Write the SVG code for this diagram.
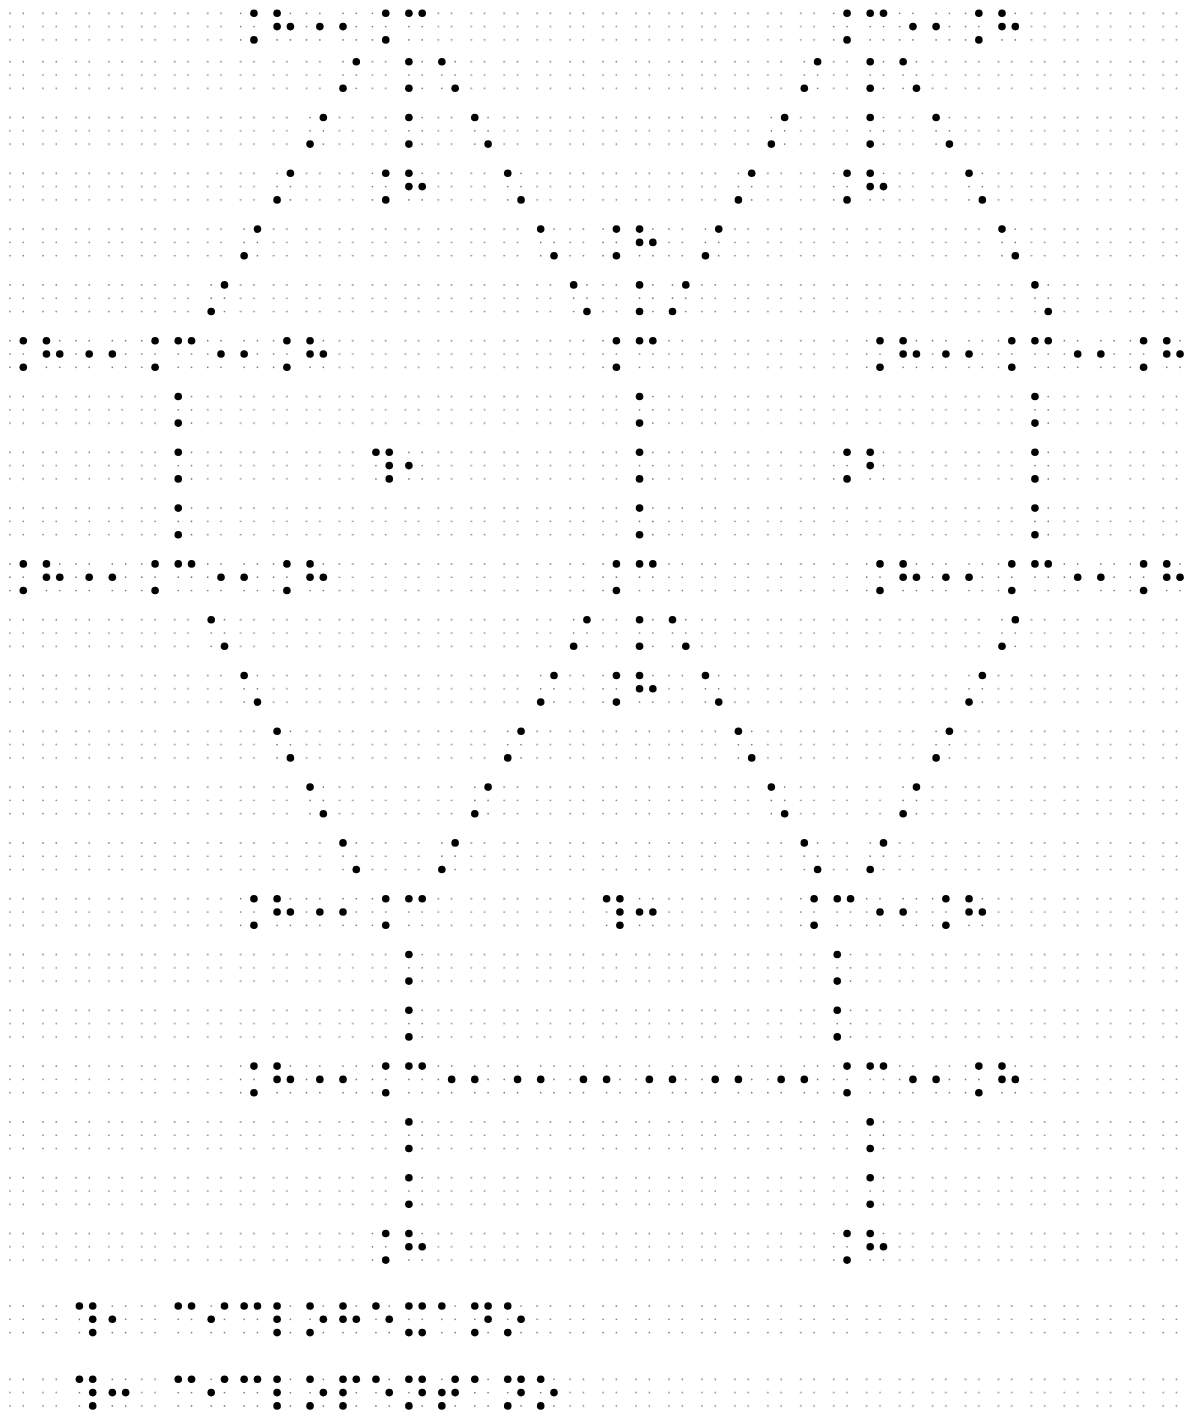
<svg xmlns="http://www.w3.org/2000/svg" width="1190" height="1412" viewBox="0 0 1190 1412">
<style>
.s{fill:#7a7a7a}
.k{fill:#000}
</style>
<defs>
<pattern id="bg" patternUnits="userSpaceOnUse" x="0" y="55.8" width="32.95" height="55.8">
<circle class="s" cx="10" cy="5.9" r="0.85"/><circle class="s" cx="10" cy="19.2" r="0.85"/><circle class="s" cx="10" cy="32.5" r="0.85"/>
<circle class="s" cx="23.3" cy="5.9" r="0.85"/><circle class="s" cx="23.3" cy="19.2" r="0.85"/><circle class="s" cx="23.3" cy="32.5" r="0.85"/>
</pattern>
<circle id="B" class="k" cx="0" cy="0" r="3.8"/>
<g id="e"><rect x="-5.5" y="-5.5" width="24.3" height="37.6" fill="#fff"/>
<circle class="s" cx="0" cy="0" r="0.85"/><circle class="s" cx="0" cy="13.3" r="0.85"/><circle class="s" cx="0" cy="26.6" r="0.85"/>
<circle class="s" cx="13.3" cy="0" r="0.85"/><circle class="s" cx="13.3" cy="13.3" r="0.85"/><circle class="s" cx="13.3" cy="26.6" r="0.85"/></g>
<g id="cap"><use href="#e"/><use href="#B" x="13.3" y="0"/><use href="#B" x="13.3" y="26.6"/></g>
<g id="p5"><use href="#e"/><use href="#B" x="13.3" y="13.3"/></g>
<g id="h"><use href="#e"/><use href="#B" x="0" y="0"/><use href="#B" x="0" y="13.3"/><use href="#B" x="13.3" y="13.3"/></g>
<g id="c"><use href="#e"/><use href="#B" x="0" y="0"/><use href="#B" x="13.3" y="0"/></g>
<g id="p2"><use href="#e"/><use href="#B" x="0" y="13.3"/></g>
<g id="v"><use href="#e"/><use href="#B" x="0" y="0"/><use href="#B" x="0" y="26.6"/></g>
<g id="fs"><use href="#e"/><use href="#B" x="0" y="26.6"/><use href="#B" x="13.3" y="0"/></g>
<g id="bs"><use href="#e"/><use href="#B" x="0" y="0"/><use href="#B" x="13.3" y="26.6"/></g>
<g id="p1456"><use href="#e"/><use href="#B" x="0" y="0"/><use href="#B" x="13.3" y="0"/><use href="#B" x="13.3" y="13.3"/><use href="#B" x="13.3" y="26.6"/></g>
<g id="p25"><use href="#e"/><use href="#B" x="0" y="13.3"/><use href="#B" x="13.3" y="13.3"/></g>
<g id="b"><use href="#e"/><use href="#B" x="0" y="0"/><use href="#B" x="0" y="13.3"/></g>
<g id="i"><use href="#e"/><use href="#B" x="0" y="13.3"/><use href="#B" x="13.3" y="0"/></g>
<g id="l"><use href="#e"/><use href="#B" x="0" y="0"/><use href="#B" x="0" y="13.3"/><use href="#B" x="0" y="26.6"/></g>
<g id="o"><use href="#e"/><use href="#B" x="0" y="0"/><use href="#B" x="0" y="26.6"/><use href="#B" x="13.3" y="13.3"/></g>
<g id="ee"><use href="#e"/><use href="#B" x="0" y="0"/><use href="#B" x="13.3" y="13.3"/></g>
<g id="x"><use href="#e"/><use href="#B" x="0" y="0"/><use href="#B" x="0" y="26.6"/><use href="#B" x="13.3" y="0"/><use href="#B" x="13.3" y="26.6"/></g>
<g id="a"><use href="#e"/><use href="#B" x="0" y="0"/></g>
<g id="n"><use href="#e"/><use href="#B" x="0" y="0"/><use href="#B" x="0" y="26.6"/><use href="#B" x="13.3" y="0"/><use href="#B" x="13.3" y="13.3"/></g>
<g id="p"><use href="#e"/><use href="#B" x="0" y="0"/><use href="#B" x="0" y="13.3"/><use href="#B" x="0" y="26.6"/><use href="#B" x="13.3" y="0"/></g>
<g id="t"><use href="#e"/><use href="#B" x="0" y="13.3"/><use href="#B" x="0" y="26.6"/><use href="#B" x="13.3" y="0"/><use href="#B" x="13.3" y="13.3"/></g>
<g id="H"><use href="#cap"/><use href="#h" x="36.45"/></g>
<g id="C"><use href="#cap"/><use href="#c" x="36.45"/></g>
<g id="bd"><use href="#p5"/><use href="#p2" x="36.45"/></g>
</defs>
<rect width="1190" height="1412" fill="#fff"/>
<g id="background">
<rect x="0" y="55.8" width="1190" height="55.8" fill="url(#bg)" transform="translate(0,-48.4)"/>
<rect x="0" y="55.8" width="1190" height="1227.6" fill="url(#bg)"/>
<rect x="0" y="55.8" width="1190" height="55.8" fill="url(#bg)" transform="translate(0,1244.3)"/>
<rect x="0" y="55.8" width="1190" height="55.8" fill="url(#bg)" transform="translate(0,1317.6)"/>
</g>
<g id="connectors">
<g id="bonds-horizontal">
<use href="#bd" x="306.55" y="13.3"/><use href="#bd" x="899.65" y="13.3"/>
<use href="#bd" x="75.9" y="340.7"/><use href="#bd" x="207.7" y="340.7"/><use href="#bd" x="932.6" y="340.7"/><use href="#bd" x="1064.4" y="340.7"/>
<use href="#bd" x="75.9" y="563.9"/><use href="#bd" x="207.7" y="563.9"/><use href="#bd" x="932.6" y="563.9"/><use href="#bd" x="1064.4" y="563.9"/>
<use href="#bd" x="306.55" y="898.7"/><use href="#bd" x="866.7" y="898.7"/>
<use href="#bd" x="306.55" y="1066.1"/><use href="#bd" x="438.35" y="1066.1"/><use href="#bd" x="504.25" y="1066.1"/><use href="#bd" x="570.15" y="1066.1"/><use href="#bd" x="636.05" y="1066.1"/><use href="#bd" x="701.95" y="1066.1"/><use href="#bd" x="767.85" y="1066.1"/><use href="#bd" x="899.65" y="1066.1"/>
</g>
<g id="bonds-vertical">
<use href="#v" x="408.9" y="61.7"/><use href="#v" x="870.2" y="61.7"/>
<use href="#v" x="408.9" y="117.5"/><use href="#v" x="870.2" y="117.5"/>
<use href="#v" x="639.55" y="284.9"/>
<use href="#v" x="178.25" y="396.5"/><use href="#v" x="639.55" y="396.5"/><use href="#v" x="1034.95" y="396.5"/>
<use href="#v" x="178.25" y="452.3"/><use href="#v" x="639.55" y="452.3"/><use href="#v" x="1034.95" y="452.3"/>
<use href="#v" x="178.25" y="508.1"/><use href="#v" x="639.55" y="508.1"/><use href="#v" x="1034.95" y="508.1"/>
<use href="#v" x="639.55" y="619.7"/>
<use href="#v" x="408.9" y="954.5"/><use href="#v" x="837.25" y="954.5"/>
<use href="#v" x="408.9" y="1010.3"/><use href="#v" x="837.25" y="1010.3"/>
<use href="#v" x="408.9" y="1121.9"/><use href="#v" x="870.2" y="1121.9"/>
<use href="#v" x="408.9" y="1177.7"/><use href="#v" x="870.2" y="1177.7"/>
</g>
<g id="bonds-slash">
<use href="#fs" x="343" y="61.7"/><use href="#fs" x="804.3" y="61.7"/>
<use href="#fs" x="310.05" y="117.5"/><use href="#fs" x="771.35" y="117.5"/>
<use href="#fs" x="277.1" y="173.3"/><use href="#fs" x="738.4" y="173.3"/>
<use href="#fs" x="244.15" y="229.1"/><use href="#fs" x="705.45" y="229.1"/>
<use href="#fs" x="211.2" y="284.9"/><use href="#fs" x="672.5" y="284.9"/>
<use href="#fs" x="573.65" y="619.7"/><use href="#fs" x="1002" y="619.7"/>
<use href="#fs" x="540.7" y="675.5"/><use href="#fs" x="969.05" y="675.5"/>
<use href="#fs" x="507.75" y="731.3"/><use href="#fs" x="936.1" y="731.3"/>
<use href="#fs" x="474.8" y="787.1"/><use href="#fs" x="903.15" y="787.1"/>
<use href="#fs" x="441.85" y="842.9"/><use href="#fs" x="870.2" y="842.9"/>
</g>
<g id="bonds-backslash">
<use href="#bs" x="441.85" y="61.7"/><use href="#bs" x="903.15" y="61.7"/>
<use href="#bs" x="474.8" y="117.5"/><use href="#bs" x="936.1" y="117.5"/>
<use href="#bs" x="507.75" y="173.3"/><use href="#bs" x="969.05" y="173.3"/>
<use href="#bs" x="540.7" y="229.1"/><use href="#bs" x="1002" y="229.1"/>
<use href="#bs" x="573.65" y="284.9"/><use href="#bs" x="1034.95" y="284.9"/>
<use href="#bs" x="211.2" y="619.7"/><use href="#bs" x="672.5" y="619.7"/>
<use href="#bs" x="244.15" y="675.5"/><use href="#bs" x="705.45" y="675.5"/>
<use href="#bs" x="277.1" y="731.3"/><use href="#bs" x="738.4" y="731.3"/>
<use href="#bs" x="310.05" y="787.1"/><use href="#bs" x="771.35" y="787.1"/>
<use href="#bs" x="343" y="842.9"/><use href="#bs" x="804.3" y="842.9"/>
</g>
</g>
<g id="nodes">
<g id="H1"><title>H</title><use href="#H" x="240.65" y="13.3"/></g>
<g id="C1"><title>C</title><use href="#C" x="372.45" y="13.3"/></g>
<g id="C2"><title>C</title><use href="#C" x="833.75" y="13.3"/></g>
<g id="H2"><title>H</title><use href="#H" x="965.55" y="13.3"/></g>
<g id="H3"><title>H</title><use href="#H" x="372.45" y="173.3"/></g>
<g id="H4"><title>H</title><use href="#H" x="833.75" y="173.3"/></g>
<g id="H5"><title>H</title><use href="#H" x="603.1" y="229.1"/></g>
<g id="H6"><title>H</title><use href="#H" x="10" y="340.7"/></g>
<g id="C3"><title>C</title><use href="#C" x="141.8" y="340.7"/></g>
<g id="H7"><title>H</title><use href="#H" x="273.6" y="340.7"/></g>
<g id="C4"><title>C</title><use href="#C" x="603.1" y="340.7"/></g>
<g id="H8"><title>H</title><use href="#H" x="866.7" y="340.7"/></g>
<g id="C5"><title>C</title><use href="#C" x="998.5" y="340.7"/></g>
<g id="H9"><title>H</title><use href="#H" x="1130.3" y="340.7"/></g>
<g id="H10"><title>H</title><use href="#H" x="10" y="563.9"/></g>
<g id="C6"><title>C</title><use href="#C" x="141.8" y="563.9"/></g>
<g id="H11"><title>H</title><use href="#H" x="273.6" y="563.9"/></g>
<g id="C7"><title>C</title><use href="#C" x="603.1" y="563.9"/></g>
<g id="H12"><title>H</title><use href="#H" x="866.7" y="563.9"/></g>
<g id="C8"><title>C</title><use href="#C" x="998.5" y="563.9"/></g>
<g id="H13"><title>H</title><use href="#H" x="1130.3" y="563.9"/></g>
<g id="H14"><title>H</title><use href="#H" x="603.1" y="675.5"/></g>
<g id="H15"><title>H</title><use href="#H" x="240.65" y="898.7"/></g>
<g id="C9"><title>C</title><use href="#C" x="372.45" y="898.7"/></g>
<g id="C10"><title>C</title><use href="#C" x="800.8" y="898.7"/></g>
<g id="H16"><title>H</title><use href="#H" x="932.6" y="898.7"/></g>
<g id="H17"><title>H</title><use href="#H" x="240.65" y="1066.1"/></g>
<g id="C11"><title>C</title><use href="#C" x="372.45" y="1066.1"/></g>
<g id="C12"><title>C</title><use href="#C" x="833.75" y="1066.1"/></g>
<g id="H18"><title>H</title><use href="#H" x="965.55" y="1066.1"/></g>
<g id="H19"><title>H</title><use href="#H" x="372.45" y="1233.5"/></g>
<g id="H20"><title>H</title><use href="#H" x="833.75" y="1233.5"/></g>
</g>
<g id="ring-labels">
<g id="ring-label-1"><title>ring label</title><use href="#p1456" x="375.95" y="452.3"/><use href="#p2" x="408.9" y="452.3"/></g>
<g id="ring-label-2"><title>B</title><use href="#cap" x="833.75" y="452.3"/><use href="#b" x="870.2" y="452.3"/></g>
<g id="ring-label-3"><title>ring label</title><use href="#p1456" x="606.6" y="898.7"/><use href="#p25" x="639.55" y="898.7"/></g>
</g>
<g id="legend">
<g id="legend-1"><title>ciclohexano</title>
<use href="#p1456" x="79.4" y="1306"/><use href="#p2" x="112.35" y="1306"/>
<use href="#c" x="178.25" y="1306"/><use href="#i" x="211.2" y="1306"/><use href="#c" x="244.15" y="1306"/><use href="#l" x="277.1" y="1306"/><use href="#o" x="310.05" y="1306"/><use href="#h" x="343" y="1306"/><use href="#ee" x="375.95" y="1306"/><use href="#x" x="408.9" y="1306"/><use href="#a" x="441.85" y="1306"/><use href="#n" x="474.8" y="1306"/><use href="#o" x="507.75" y="1306"/>
</g>
<g id="legend-2"><title>ciclopentano</title>
<use href="#p1456" x="79.4" y="1379.3"/><use href="#p25" x="112.35" y="1379.3"/>
<use href="#c" x="178.25" y="1379.3"/><use href="#i" x="211.2" y="1379.3"/><use href="#c" x="244.15" y="1379.3"/><use href="#l" x="277.1" y="1379.3"/><use href="#o" x="310.05" y="1379.3"/><use href="#p" x="343" y="1379.3"/><use href="#ee" x="375.95" y="1379.3"/><use href="#n" x="408.9" y="1379.3"/><use href="#t" x="441.85" y="1379.3"/><use href="#a" x="474.8" y="1379.3"/><use href="#n" x="507.75" y="1379.3"/><use href="#o" x="540.7" y="1379.3"/>
</g>
</g>
</svg>
